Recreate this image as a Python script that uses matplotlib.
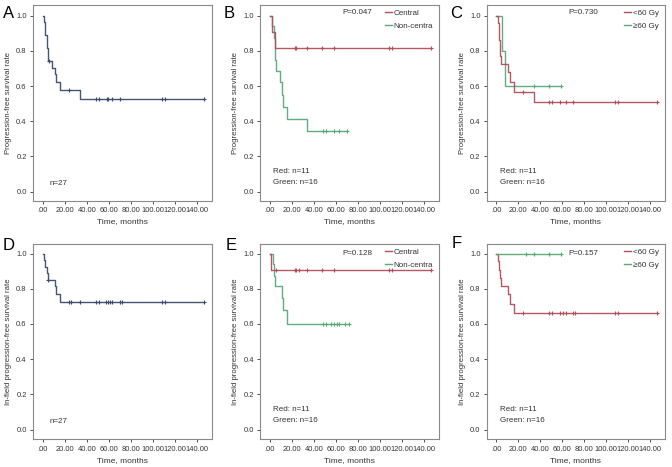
import matplotlib
matplotlib.use("Agg")
import matplotlib.pyplot as plt
from matplotlib.lines import Line2D

plt.rcParams['font.family'] = ['Liberation Sans', 'DejaVu Sans']

# ---------------- data ----------------
# Panel A (overall PFS)
A_t = [0, 1.5, 2.5, 3.5, 4.5, 8, 11, 12, 16, 34]
A_s = [1.0, 0.963, 0.889, 0.815, 0.741, 0.704, 0.667, 0.620, 0.577, 0.527]
A_end = 146
A_cens = [5.5, 24, 48, 51, 58, 59, 63, 70, 108, 111, 146]

# Panel B (PFS by location)
B_red_t = [0, 2, 5]
B_red_s = [1.0, 0.909, 0.818]
B_red_end = 146
B_red_cens = [23, 24, 34, 47, 58, 108, 111, 146]
B_grn_t = [0, 2.5, 3.5, 4.5, 5, 6, 9, 11, 12, 16, 34]
B_grn_s = [1.0, 0.938, 0.875, 0.813, 0.750, 0.688, 0.625, 0.550, 0.481, 0.413, 0.344]
B_grn_end = 70
B_grn_cens = [48, 51, 58, 63, 70]

# Panel C (PFS by dose)
C_red_t = [0, 1.5, 2.5, 3.5, 4.5, 11, 12, 16, 34]
C_red_s = [1.0, 0.955, 0.864, 0.773, 0.727, 0.682, 0.625, 0.568, 0.507]
C_red_end = 146
C_red_cens = [24, 48, 51, 58, 63, 70, 108, 111, 146]
C_grn_t = [0, 5, 8]
C_grn_s = [1.0, 0.8, 0.6]
C_grn_end = 59
C_grn_cens = [34, 48, 59]

# Panel D (overall in-field PFS)
D_t = [0, 1.5, 2.5, 3.5, 4.5, 11.5, 12.5, 16]
D_s = [1.0, 0.963, 0.926, 0.889, 0.852, 0.815, 0.770, 0.727]
D_end = 146
D_cens = [5, 24, 26, 34, 48, 51, 57, 59, 61, 63, 70, 72, 108, 111, 146]

# Panel E (in-field PFS by location)
E_red_t = [0, 1.5]
E_red_s = [1.0, 0.909]
E_red_end = 146
E_red_cens = [6, 23, 24, 27, 34, 47, 58, 108, 111, 146]
E_grn_t = [0, 3, 4, 5, 11, 12, 16]
E_grn_s = [1.0, 0.938, 0.875, 0.813, 0.745, 0.677, 0.602]
E_grn_end = 72
E_grn_cens = [48, 51, 56, 58, 61, 63, 68, 72]

# Panel F (in-field PFS by dose)
F_red_t = [0, 1.5, 2.5, 3.5, 4.5, 11, 12, 16]
F_red_s = [1.0, 0.955, 0.909, 0.864, 0.818, 0.773, 0.716, 0.661]
F_red_end = 146
F_red_cens = [24, 48, 51, 58, 61, 63, 70, 72, 108, 111, 146]
F_grn_t = [0]
F_grn_s = [1.0]
F_grn_end = 59
F_grn_cens = [27, 34, 48, 59]

x_ticks = [0, 20, 40, 60, 80, 100, 120, 140]
x_ticklabels = ['.00', '20.00', '40.00', '60.00', '80.00', '100.00', '120.00', '140.00']
y_ticks = [0.0, 0.2, 0.4, 0.6, 0.8, 1.0]
y_ticklabels = ['0.0', '0.2', '0.4', '0.6', '0.8', '1.0']

RED = '#b24f5c'
GRN = '#5aa97a'
BLU = '#3c4b6e'
TXT = '#333333'
FRAME = '#8a8a8a'
FS = 5.8

W, H = 672, 467
fig = plt.figure(figsize=(W / 100, H / 100), dpi=100)


def px_axes(x0, x1, ytop, ybot):
    return fig.add_axes([x0 / W, (H - ybot) / H, (x1 - x0) / W, (ybot - ytop) / H])


def km(ax, t, s, end, cens, color):
    xs = list(t) + [end]
    ys = list(s) + [s[-1]]
    ax.step(xs, ys, where='post', color=color, lw=1.0, alpha=0.95, zorder=3)
    cy = []
    for c in cens:
        v = s[0]
        for ti, si in zip(t, s):
            if ti <= c:
                v = si
        cy.append(v)
    ax.plot(cens, cy, linestyle='none', marker='+', markersize=3.2,
            markeredgewidth=0.8, color=color, zorder=4)


def style(ax, ylabel, row):
    ax.set_xlim(-8.8, 153.6)
    if row == 0:
        ax.set_ylim(-0.053, 1.06)
    else:
        ax.set_ylim(-0.055, 1.056)
    ax.set_xticks(x_ticks)
    ax.set_xticklabels(x_ticklabels)
    ax.set_yticks(y_ticks)
    ax.set_yticklabels(y_ticklabels)
    ax.tick_params(labelsize=5.4, colors=TXT, length=2.5, width=0.6, pad=2)
    for t in ax.get_xticklabels() + ax.get_yticklabels():
        t.set_color(TXT)
    for sp in ax.spines.values():
        sp.set_color(FRAME)
        sp.set_linewidth(0.8)
    ax.set_xlabel('Time, months', fontsize=6.0, color=TXT, labelpad=3)
    ax.set_ylabel(ylabel, fontsize=5.6, color=TXT, labelpad=3)


def legend(ax, labels):
    handles = [Line2D([0], [0], color=RED, lw=1.0), Line2D([0], [0], color=GRN, lw=1.0)]
    ax.legend(handles, labels, loc='upper right', bbox_to_anchor=(1.0, 1.005),
              frameon=False, fontsize=FS, handlelength=0.9, handletextpad=0.25,
              labelspacing=0.65, borderaxespad=0.3, labelcolor=TXT)


cols = [(33, 212), (260, 439), (486.7, 665)]
rows = [(5, 201), (243.7, 439.3)]
letters = [['A', 'B', 'C'], ['D', 'E', 'F']]
letter_pos = [[(3, 14), (224, 14), (450, 14)], [(3, 245), (226, 245), (452, 243)]]
ylabels = ['Progression-free survival rate', 'In-field progression-free survival rate']

axes = {}
for r in range(2):
    for c in range(3):
        ax = px_axes(cols[c][0], cols[c][1], rows[r][0], rows[r][1])
        style(ax, ylabels[r], r)
        axes[letters[r][c]] = ax
        lx, ly = letter_pos[r][c]
        fig.text(lx / W, (H - ly) / H, letters[r][c], fontsize=12, color='black',
                 va='center', ha='left')

# A
ax = axes['A']
km(ax, A_t, A_s, A_end, A_cens, BLU)
ax.text(5.8, 0.044, 'n=27', fontsize=FS, color=TXT, va='center')

# B
ax = axes['B']
km(ax, B_grn_t, B_grn_s, B_grn_end, B_grn_cens, GRN)
km(ax, B_red_t, B_red_s, B_red_end, B_red_cens, RED)
ax.text(66, 1.015, 'P=0.047', fontsize=FS, color=TXT, va='center')
legend(ax, ['Central', 'Non-centra'])
ax.text(3, 0.112, 'Red: n=11', fontsize=FS, color=TXT, va='center')
ax.text(3, 0.05, 'Green: n=16', fontsize=FS, color=TXT, va='center')

# C
ax = axes['C']
km(ax, C_grn_t, C_grn_s, C_grn_end, C_grn_cens, GRN)
km(ax, C_red_t, C_red_s, C_red_end, C_red_cens, RED)
ax.text(66, 1.015, 'P=0.730', fontsize=FS, color=TXT, va='center')
legend(ax, ['<60 Gy', '≥60 Gy'])
ax.text(3, 0.112, 'Red: n=11', fontsize=FS, color=TXT, va='center')
ax.text(3, 0.05, 'Green: n=16', fontsize=FS, color=TXT, va='center')

# D
ax = axes['D']
km(ax, D_t, D_s, D_end, D_cens, BLU)
ax.text(5.8, 0.044, 'n=27', fontsize=FS, color=TXT, va='center')

# E
ax = axes['E']
km(ax, E_grn_t, E_grn_s, E_grn_end, E_grn_cens, GRN)
km(ax, E_red_t, E_red_s, E_red_end, E_red_cens, RED)
ax.text(66, 1.0, 'P=0.128', fontsize=FS, color=TXT, va='center')
legend(ax, ['Central', 'Non-centra'])
ax.text(3, 0.112, 'Red: n=11', fontsize=FS, color=TXT, va='center')
ax.text(3, 0.05, 'Green: n=16', fontsize=FS, color=TXT, va='center')

# F
ax = axes['F']
km(ax, F_red_t, F_red_s, F_red_end, F_red_cens, RED)
km(ax, F_grn_t, F_grn_s, F_grn_end, F_grn_cens, GRN)
ax.text(66, 1.0, 'P=0.157', fontsize=FS, color=TXT, va='center')
legend(ax, ['<60 Gy', '≥60 Gy'])
ax.text(3, 0.112, 'Red: n=11', fontsize=FS, color=TXT, va='center')
ax.text(3, 0.05, 'Green: n=16', fontsize=FS, color=TXT, va='center')

fig.savefig('out.png', dpi=100, facecolor='white')
